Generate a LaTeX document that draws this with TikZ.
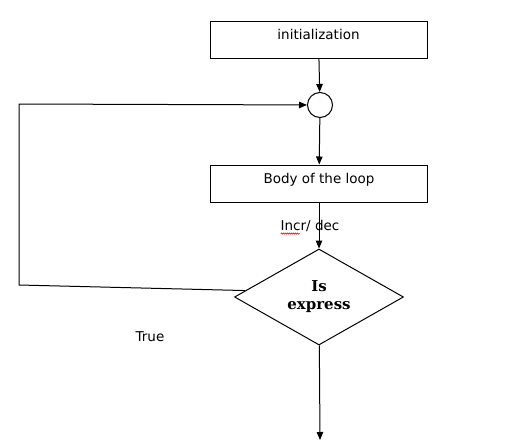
\documentclass[tikz,border=0pt]{standalone}
\usepackage{fontspec}
\setmainfont{DejaVu Sans}
\newfontfamily\boldserif{DejaVu Serif}
\usetikzlibrary{arrows.meta,positioning,shapes.geometric,calc,decorations.pathmorphing}
\tikzset{
  stepbox/.style  = {draw, line width=1pt, minimum width=217pt, minimum height=37pt,
                     inner sep=0pt, text height=9pt, text depth=9pt,
                     font=\fontsize{13.5}{16}\selectfont},
  junct/.style    = {draw, circle, line width=1pt, minimum size=25pt, inner sep=0pt},
  test/.style     = {draw, diamond, line width=1pt, aspect=1.76, minimum width=169pt,
                     minimum height=96pt, inner sep=0pt, align=center,
                     font=\boldserif\bfseries\fontsize{15}{18}\selectfont},
  ar/.style       = {-{Triangle[length=8pt,width=6.5pt]}, line width=1pt},
  lbl/.style      = {font=\fontsize{13.5}{16}\selectfont, inner sep=1pt},
}

\begin{document}
\begin{tikzpicture}[x=1pt, y=-1pt]
  \useasboundingbox (0,0) rectangle (525,445);
  % boxes
  \node[stepbox] (init) at (318.5,39.5) {initialization};
  \node[junct]   (junc) at (320,105) {};
  \node[stepbox] (body) at (319,183.5) {Body of the loop};
  \node[test]    (cond) at (319,297) {Is\\express};
  % free ends of the connectors
  \coordinate (ret)  at (19,285);
  \coordinate (top)  at (19,104);
  \coordinate (exit) at (320,440);
  % connectors
  \draw[ar] (init) -- (junc);
  \draw[ar] (junc) -- (body);
  \draw[ar] (body) -- node[lbl, xshift=-9pt] (incr) {Incr/ dec} (cond);
  \draw[ar] (cond.175) -- (ret) -- (top) -- (junc);
  \draw[ar] (cond) -- (exit);
  \node[lbl] (true) at (150,337) {True};
  % spell-check mark under Incr
  \draw[red, line width=0.6pt, decorate, decoration={snake, segment length=2pt, amplitude=0.6pt}]
    ($(incr.base west)+(1.5pt,-3.5pt)$) -- ++(19pt,0);
\end{tikzpicture}
\end{document}
